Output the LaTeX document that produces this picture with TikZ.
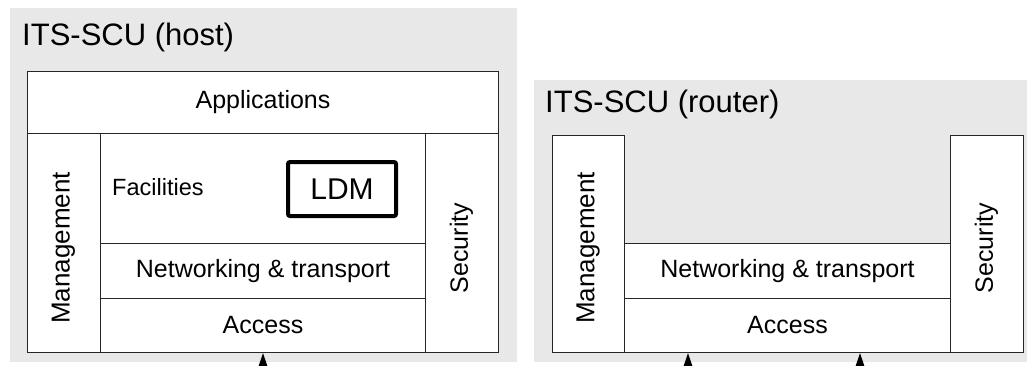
\documentclass[tikz,border=0pt]{standalone}
\usepackage{fontspec}
\setmainfont{Liberation Sans}
\usetikzlibrary{arrows.meta}

\definecolor{bggray}{RGB}{232,232,232}

\tikzset{
  layer/.style={draw=black!85, fill=white, line width=1pt, inner sep=0pt, anchor=north west},
  lbl/.style={font=\fontsize{25}{30}\selectfont},
  title/.style={font=\fontsize{31}{36}\selectfont, anchor=base west, inner sep=0pt},
  ldmbox/.style={draw=black, line width=4pt, rounded corners=2pt, fill=white,
    minimum width=108pt, minimum height=54pt, inner sep=0pt, font=\fontsize{30}{36}\selectfont},
  uparrow/.style={line width=1.5pt, -{Triangle[width=9pt,length=14pt]}}
}

\begin{document}
\begin{tikzpicture}[x=1pt, y=-1pt]

    \useasboundingbox (0,0) rectangle (1027,365);

    % grey backgrounds of the two units
    \fill[bggray] (10,8) rectangle (517,362);
    \fill[bggray] (534,80) rectangle (1027,362);

    % host
    \node[title] (htitle) at (22,45) {ITS-SCU (host)};
    \node[layer, minimum width=471pt, minimum height=62pt] (happ) at (27,71) {};
    \node[lbl] (happlbl) at (happ.center) {Applications};
    \node[layer, minimum width=73pt, minimum height=219pt] (hmgmt) at (27,133) {};
    \node[layer, minimum width=73pt, minimum height=219pt] (hsec) at (425,133) {};
    \node[layer, minimum width=325pt, minimum height=110pt] (hfac) at (100,133) {};
    \node[layer, minimum width=325pt, minimum height=55pt] (hnet) at (100,243) {};
    \node[layer, minimum width=325pt, minimum height=54pt] (hacc) at (100,298) {};
    \node[lbl, font=\fontsize{26}{30}\selectfont, rotate=90] (hmgmtlbl) at (63.5,248) {Management};
    \node[lbl, rotate=90] (hseclbl) at (461.5,248) {Security};
    \node[lbl, font=\fontsize{23.5}{28}\selectfont, anchor=west, inner sep=0pt] (hfaclbl) at (112,187) {Facilities};
    \node[ldmbox] (ldm) at (342,189) {LDM};
    \node[lbl] (hnetlbl) at (hnet.center) {Networking \& transport};
    \node[lbl] (hacclbl) at (hacc.center) {Access};

    % router
    \node[title] (rtitle) at (545,112) {ITS-SCU (router)};
    \node[layer, minimum width=72pt, minimum height=217pt] (rmgmt) at (552,135) {};
    \node[layer, minimum width=73pt, minimum height=217pt] (rsec) at (950,135) {};
    \node[layer, minimum width=326pt, minimum height=55pt] (rnet) at (624,243) {};
    \node[layer, minimum width=326pt, minimum height=54pt] (racc) at (624,298) {};
    \node[lbl, font=\fontsize{26}{30}\selectfont, rotate=90] (rmgmtlbl) at (588,248) {Management};
    \node[lbl, rotate=90] (rseclbl) at (986.5,248) {Security};
    \node[lbl] (rnetlbl) at (rnet.center) {Networking \& transport};
    \node[lbl] (racclbl) at (racc.center) {Access};

    % links from below
    \coordinate (harr) at (263,380);
    \coordinate (rarrA) at (688,380);
    \coordinate (rarrB) at (860,380);
    \draw[uparrow] (harr) -- (harr |- hacc.south);
    \draw[uparrow] (rarrA) -- (rarrA |- racc.south);
    \draw[uparrow] (rarrB) -- (rarrB |- racc.south);

\end{tikzpicture}
\end{document}
